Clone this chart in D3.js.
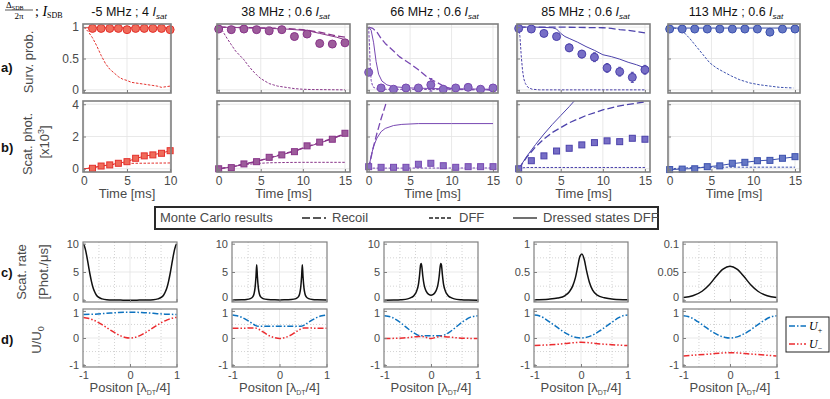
<!DOCTYPE html>
<html lang="en">
<head>
  <meta charset="utf-8">
  <title>Dressed states DFF</title>
  <script src="https://d3js.org/d3.v7.min.js"></script>
  <style>
    body { margin: 0; background: #fff; }
    text { font-family: "Liberation Sans", Arial, sans-serif; }
  </style>
</head>
<body>
<script>
// ---------- data ----------
var colTitles = ['-5 MHz ; 4 ', '38  MHz ; 0.6 ', '66 MHz ; 0.6 ', '85 MHz ; 0.6 ', '113 MHz ; 0.6 '];
var colColors = ['#e4302c', '#883489', '#7848b2', '#4c42ab', '#3b50ad'];
var markFill  = ['#ef6b5a', '#9d5c9b', '#8b6fc3', '#776ec6', '#6577c5'];

var tExp1 = [1, 2, 3, 4, 5, 6, 7, 8, 9, 10];
var tExp = [0, 1.5, 3, 4.5, 6, 7.5, 9, 10.5, 12, 13.5, 15];

// a) survival probability, experiment
var surv1 = [0.98, 0.98, 0.98, 0.98, 0.96, 0.98, 0.98, 0.98, 0.98, 0.96];
var surv2 = [0.97, 0.96, 0.97, 0.96, 0.94, 0.96, 0.85, 0.89, 0.74, 0.73, 0.75];
var surv3 = [0.28, 0.03, 0.01, 0.03, 0.03, 0.08, 0.01, 0.03, 0.04, 0.01, 0.03];
var surv4 = [0.98, 0.97, 0.9, 0.85, 0.67, 0.57, 0.52, 0.35, 0.29, 0.2, 0.32];
var surv5 = [0.97, 0.97, 0.97, 0.97, 0.97, 0.97, 0.97, 0.97, 0.92, 0.97, 0.97];
var survErr1 = [0.01, 0.01, 0.01, 0.01, 0.02, 0.01, 0.01, 0.01, 0.01, 0.02];
var survErr2 = [0.02, 0.02, 0.02, 0.02, 0.03, 0.03, 0.05, 0.04, 0.05, 0.05, 0.04];
var survErr3 = [0.04, 0.03, 0.02, 0.02, 0.02, 0.1, 0.02, 0.03, 0.05, 0.03, 0.03];
var survErr4 = [0.02, 0.02, 0.04, 0.05, 0.06, 0.06, 0.07, 0.07, 0.07, 0.08, 0.07];
var survErr5 = [0.02, 0.02, 0.02, 0.02, 0.02, 0.02, 0.02, 0.02, 0.03, 0.02, 0.02];

// a) Monte Carlo curves [t, P]
var survDressed1 = [[0, 0.99], [10, 0.99]];
var survDff1 = [[0, 1], [0.5, 0.93], [1, 0.83], [1.5, 0.7], [2, 0.55], [2.5, 0.42], [3, 0.33], [3.5, 0.27], [4, 0.21], [4.5, 0.17], [5, 0.15], [5.5, 0.12], [6, 0.11], [7, 0.09], [8, 0.07], [8.5, 0.06], [9, 0.04], [9.5, 0.05], [10, 0.06]];
var survDressed2 = [[0, 1], [3, 0.99], [6, 0.98], [8, 0.97], [9, 0.96], [10, 0.95], [11, 0.93], [12, 0.9], [13, 0.87], [14, 0.84], [15, 0.8]];
var survRecoil2 = [[0, 1], [4, 0.99], [8, 0.98], [10, 0.96], [11, 0.94], [12, 0.92], [13, 0.89], [14, 0.86], [15, 0.84]];
var survDff2 = [[0, 1], [0.5, 0.93], [1, 0.82], [1.5, 0.72], [2, 0.62], [2.5, 0.55], [3, 0.48], [3.5, 0.39], [4, 0.31], [4.5, 0.24], [5, 0.18], [5.5, 0.14], [6, 0.1], [6.5, 0.08], [7, 0.06], [8, 0.04], [9, 0.02], [10, 0.01], [11, 0.005], [15, 0]];
var survDressed3 = [[0, 1], [0.3, 0.95], [0.6, 0.75], [0.9, 0.45], [1.2, 0.25], [1.6, 0.14], [2.2, 0.08], [3, 0.05], [5, 0.03], [8, 0.02], [15, 0.01]];
var survRecoil3 = [[0, 1], [0.5, 0.98], [1, 0.92], [1.5, 0.82], [2, 0.74], [3, 0.62], [3.7, 0.53], [4.5, 0.46], [5.3, 0.39], [6, 0.32], [6.9, 0.22], [7.5, 0.17], [8.5, 0.1], [9.2, 0.05], [10, 0.02], [11, 0.01], [15, 0]];
var survDff3 = [[0, 1], [0.1, 0.7], [0.2, 0.35], [0.3, 0.15], [0.5, 0.05], [1, 0.01], [15, 0]];
var survDressed4 = [[0, 1], [2, 1], [4, 0.99], [4.5, 0.97], [5, 0.9], [5.5, 0.85], [6, 0.82], [7, 0.76], [8, 0.69], [9, 0.63], [10, 0.56], [11, 0.53], [12, 0.49], [13, 0.44], [14, 0.4], [15, 0.35]];
var survRecoil4 = [[0, 1], [5, 1], [10, 0.99], [11, 0.98], [12, 0.96], [13, 0.95], [14, 0.93], [15, 0.91]];
var survDff4 = [[0, 1], [0.15, 0.85], [0.3, 0.55], [0.45, 0.32], [0.6, 0.18], [0.8, 0.1], [1.1, 0.04], [1.6, 0.01], [2.5, 0], [15, 0]];
var survDressed5 = [[0, 0.985], [15, 0.985]];
var survDff5 = [[0, 1], [0.8, 0.98], [1.6, 0.93], [2.4, 0.82], [3.2, 0.69], [4, 0.56], [4.8, 0.43], [5.6, 0.35], [6.4, 0.29], [7.4, 0.22], [8.4, 0.16], [9.6, 0.11], [10.8, 0.08], [12, 0.06], [13.2, 0.04], [14, 0.035], [14.8, 0.03]];

// b) scattered photons [x10^3], experiment
var scat1 = [0.03, 0.17, 0.24, 0.34, 0.44, 0.65, 0.8, 0.86, 0.96, 1.12];
var scat2 = [0, 0.07, 0.3, 0.44, 0.71, 0.86, 1.06, 1.42, 1.65, 1.83, 2.2];
var scat3 = [0.13, 0.09, 0.09, 0.09, 0.28, 0.34, 0.19, 0.09, 0.13, 0.13, 0.13];
var scat4 = [0, 0.5, 0.8, 1.1, 1.27, 1.48, 1.62, 1.73, 1.68, 1.89, 1.83];
var scat5 = [-0.05, -0.02, 0, 0.13, 0.18, 0.34, 0.4, 0.5, 0.52, 0.65, 0.75];
var scatErr1 = [0.03, 0.03, 0.03, 0.04, 0.04, 0.05, 0.05, 0.05, 0.05, 0.06];
var scatErr2 = [0.03, 0.04, 0.05, 0.06, 0.07, 0.07, 0.08, 0.09, 0.1, 0.1, 0.12];
var scatErr3 = [0.05, 0.05, 0.05, 0.05, 0.08, 0.1, 0.07, 0.05, 0.06, 0.06, 0.06];
var scatErr4 = [0.03, 0.07, 0.08, 0.09, 0.1, 0.1, 0.12, 0.12, 0.12, 0.13, 0.13];
var scatErr5 = [0.03, 0.03, 0.03, 0.04, 0.04, 0.05, 0.05, 0.05, 0.05, 0.06, 0.06];

// b) Monte Carlo curves [t, N]
var scatDressed1 = [[0, 0], [1, 0.05], [2, 0.17], [3, 0.25], [4, 0.34], [5, 0.45], [6, 0.63], [7, 0.78], [8, 0.87], [9, 0.97], [10, 1.12]];
var scatDff1 = [[0, 0], [1, 0.08], [2, 0.16], [3, 0.24], [4, 0.3], [5, 0.33], [6, 0.34], [8, 0.35], [10, 0.36]];
var scatDressed2 = [[0, 0], [1.5, 0.1], [3, 0.28], [4.5, 0.45], [6, 0.66], [7.5, 0.87], [9, 1.08], [10.5, 1.35], [12, 1.6], [13.5, 1.85], [15, 2.15]];
var scatRecoil2 = [[0, 0], [1.5, 0.12], [3, 0.3], [4.5, 0.47], [6, 0.68], [7.5, 0.9], [9, 1.1], [10.5, 1.38], [12, 1.63], [13.5, 1.88], [15, 2.18]];
var scatDff2 = [[0, 0], [1.5, 0.12], [3, 0.25], [4.5, 0.33], [6, 0.37], [8, 0.39], [10, 0.4], [15, 0.4]];
var scatDressed3 = [[0, 0], [0.3, 0.8], [0.6, 1.4], [1, 1.9], [1.5, 2.3], [2, 2.5], [3, 2.68], [4, 2.75], [6, 2.8], [10, 2.8], [15, 2.8]];
var scatRecoil3 = [[0, 0], [0.5, 1.2], [1, 2.2], [1.5, 3.1], [2, 3.9], [2.3, 4.4]];
var scatDff3 = [[0, 0], [0.5, 0.04], [15, 0.05]];
var scatDressed4 = [[0, 0], [1, 0.8], [2, 1.5], [3, 2.15], [4, 2.75], [5, 3.3], [6, 3.85], [6.6, 4.2], [7, 4.4]];
var scatRecoil4 = [[0, 0], [1, 0.75], [2, 1.35], [3, 1.85], [4, 2.25], [6, 2.85], [8, 3.3], [10, 3.65], [12, 3.9], [15, 4.15]];
var scatDff4 = [[0, 0], [0.5, 0.06], [1, 0.08], [15, 0.08]];
var scatDressed5 = [[0, -0.05], [1.5, -0.02], [3, 0.02], [4.5, 0.12], [6, 0.2], [7.5, 0.32], [9, 0.4], [10.5, 0.49], [12, 0.54], [13.5, 0.64], [15, 0.74]];
var scatDff5 = [[0, 0], [2, 0.06], [4, 0.09], [6, 0.1], [15, 0.1]];

// c) scattering rate vs position [x, rate]
var rateC1 = [[-1, 10], [-0.98, 9.6], [-0.95, 8.7], [-0.92, 7.4], [-0.89, 6], [-0.86, 4.6], [-0.83, 3.4], [-0.8, 2.4], [-0.76, 1.5], [-0.72, 0.9], [-0.67, 0.5], [-0.6, 0.25], [-0.5, 0.1], [-0.35, 0.05], [-0.15, 0.03], [0, 0.02], [0.15, 0.03], [0.35, 0.05], [0.5, 0.1], [0.6, 0.25], [0.67, 0.5], [0.72, 0.9], [0.76, 1.5], [0.8, 2.4], [0.83, 3.4], [0.86, 4.6], [0.89, 6], [0.92, 7.4], [0.95, 8.7], [0.98, 9.6], [1, 10]];
var rateC2 = [[-1, 0.05], [-0.8, 0.08], [-0.7, 0.13], [-0.62, 0.3], [-0.57, 0.6], [-0.54, 1.2], [-0.52, 2.2], [-0.5, 4.2], [-0.485, 6.3], [-0.47, 4.2], [-0.45, 2.2], [-0.43, 1.2], [-0.4, 0.6], [-0.35, 0.3], [-0.25, 0.14], [-0.1, 0.08], [0, 0.07], [0.1, 0.08], [0.25, 0.14], [0.35, 0.3], [0.4, 0.6], [0.43, 1.2], [0.45, 2.2], [0.47, 4.2], [0.485, 6.3], [0.5, 4.2], [0.52, 2.2], [0.54, 1.2], [0.57, 0.6], [0.62, 0.3], [0.7, 0.13], [0.8, 0.08], [1, 0.05]];
var rateC3 = [[-1, 0.03], [-0.8, 0.05], [-0.65, 0.1], [-0.5, 0.25], [-0.42, 0.5], [-0.36, 0.9], [-0.31, 1.6], [-0.27, 2.8], [-0.245, 4.5], [-0.225, 6.2], [-0.21, 6.5], [-0.195, 5.8], [-0.175, 4.2], [-0.15, 2.8], [-0.12, 1.9], [-0.08, 1.3], [-0.04, 1.0], [0, 0.9], [0.04, 1.0], [0.08, 1.3], [0.12, 1.9], [0.15, 2.8], [0.175, 4.2], [0.195, 5.8], [0.21, 6.5], [0.225, 6.2], [0.245, 4.5], [0.27, 2.8], [0.31, 1.6], [0.36, 0.9], [0.42, 0.5], [0.5, 0.25], [0.65, 0.1], [0.8, 0.05], [1, 0.03]];
var rateC4 = [[-1, 0.01], [-0.7, 0.02], [-0.5, 0.04], [-0.35, 0.08], [-0.25, 0.15], [-0.18, 0.25], [-0.12, 0.4], [-0.07, 0.6], [-0.03, 0.76], [0.02, 0.82], [0.07, 0.72], [0.12, 0.52], [0.18, 0.32], [0.25, 0.18], [0.35, 0.09], [0.5, 0.045], [0.7, 0.02], [1, 0.01]];
var rateC5 = [[-1, 0.005], [-0.8, 0.008], [-0.6, 0.016], [-0.45, 0.027], [-0.3, 0.042], [-0.15, 0.055], [0, 0.06], [0.15, 0.055], [0.3, 0.042], [0.45, 0.027], [0.6, 0.016], [0.8, 0.008], [1, 0.005]];

// d) dressed potentials U/U0 [x, U]
var uPlus1 = [[-1, 0.87], [-0.75, 0.88], [-0.5, 0.91], [-0.25, 0.94], [0, 0.95], [0.25, 0.94], [0.5, 0.91], [0.75, 0.88], [1, 0.87]];
var uMinus1 = [[-1, 0.76], [-0.9, 0.73], [-0.8, 0.67], [-0.7, 0.59], [-0.6, 0.49], [-0.5, 0.38], [-0.4, 0.27], [-0.3, 0.17], [-0.2, 0.08], [-0.1, 0.02], [0, 0], [0.1, 0.02], [0.2, 0.08], [0.3, 0.17], [0.4, 0.27], [0.5, 0.38], [0.6, 0.49], [0.7, 0.59], [0.8, 0.67], [0.9, 0.73], [1, 0.76]];
var uPlus2 = [[-1, 0.85], [-0.9, 0.82], [-0.8, 0.76], [-0.7, 0.67], [-0.6, 0.56], [-0.52, 0.47], [-0.45, 0.43], [-0.3, 0.43], [0, 0.43], [0.3, 0.43], [0.45, 0.43], [0.52, 0.47], [0.6, 0.56], [0.7, 0.67], [0.8, 0.76], [0.9, 0.82], [1, 0.85]];
var uMinus2 = [[-1, 0.36], [-0.8, 0.36], [-0.6, 0.37], [-0.52, 0.37], [-0.45, 0.33], [-0.4, 0.28], [-0.3, 0.17], [-0.2, 0.07], [-0.1, 0.01], [0, -0.02], [0.1, 0.01], [0.2, 0.07], [0.3, 0.17], [0.4, 0.28], [0.45, 0.33], [0.52, 0.37], [0.6, 0.37], [0.8, 0.36], [1, 0.36]];
var uPlus3 = [[-1, 0.82], [-0.85, 0.77], [-0.7, 0.62], [-0.55, 0.42], [-0.4, 0.22], [-0.3, 0.12], [-0.22, 0.08], [0, 0.08], [0.22, 0.08], [0.3, 0.12], [0.4, 0.22], [0.55, 0.42], [0.7, 0.62], [0.85, 0.77], [1, 0.82]];
var uMinus3 = [[-1, -0.02], [-0.6, 0], [-0.3, 0.05], [-0.2, 0.06], [-0.1, 0.02], [0, -0.02], [0.1, 0.02], [0.2, 0.06], [0.3, 0.05], [0.6, 0], [1, -0.02]];
var uPlus4 = [[-1, 0.85], [-0.9, 0.82], [-0.8, 0.74], [-0.7, 0.62], [-0.6, 0.5], [-0.5, 0.38], [-0.4, 0.26], [-0.3, 0.15], [-0.2, 0.07], [-0.1, 0.02], [0, 0], [0.1, 0.02], [0.2, 0.07], [0.3, 0.15], [0.4, 0.26], [0.5, 0.38], [0.6, 0.5], [0.7, 0.62], [0.8, 0.74], [0.9, 0.82], [1, 0.85]];
var uMinus4 = [[-1, -0.28], [-0.5, -0.23], [0, -0.16], [0.5, -0.23], [1, -0.28]];
var uPlus5 = [[-1, 0.82], [-0.9, 0.79], [-0.8, 0.72], [-0.7, 0.61], [-0.6, 0.49], [-0.5, 0.37], [-0.4, 0.25], [-0.3, 0.15], [-0.2, 0.07], [-0.1, 0.02], [0, 0], [0.1, 0.02], [0.2, 0.07], [0.3, 0.15], [0.4, 0.25], [0.5, 0.37], [0.6, 0.49], [0.7, 0.61], [0.8, 0.72], [0.9, 0.79], [1, 0.82]];
var uMinus5 = [[-1, -0.66], [-0.5, -0.6], [0, -0.54], [0.5, -0.6], [1, -0.66]];

// tick values
var timeTicks1 = [0, 5, 10];
var timeTicks = [0, 5, 10, 15];
var survTicks = [0, 0.5, 1];
var scatTicks = [0, 2, 4];
var rateTicks = [[0, 5, 10], [0, 5, 10], [0, 5, 10], [0, 0.5, 1], [0, 0.05, 0.1]];
var rateMinor = [[2.5, 7.5], [2.5, 7.5], [2.5, 7.5], [0.25, 0.75], [0.025, 0.075]];
var posTicks = [-1, 0, 1];
var posMinor = [-0.667, -0.333, 0.333, 0.667];
var uTicks = [-1, 0, 1];
var uMinor = [-0.5, 0.5];

// ---------- layout ----------
var W = 830, H = 399;
var colAB = [[83, 171], [217, 350], [367, 498], [517, 650], [668, 800]];
var colCD = [[83, 177], [232, 327], [384, 478], [534, 628], [683, 777]];
var rowA = [24, 93], rowB = [101, 172], rowC = [242, 302], rowD = [309, 367];

var svg = d3.select('body').append('svg').attr('width', W).attr('height', H);
svg.append('rect').attr('width', W).attr('height', H).attr('fill', '#fff');
var defs = svg.append('defs');
var clipN = 0;

function makePanel(xr, yr, xd, yd) {
  var x = d3.scaleLinear().domain(xd).range(xr);
  var y = d3.scaleLinear().domain(yd).range([yr[1], yr[0]]);
  var id = 'clip' + (clipN++);
  defs.append('clipPath').attr('id', id).append('rect')
    .attr('x', xr[0]).attr('y', yr[0]).attr('width', xr[1] - xr[0]).attr('height', yr[1] - yr[0]);
  var g = svg.append('g');
  var grid = g.append('g');
  var plot = g.append('g').attr('clip-path', 'url(#' + id + ')');
  var marks = g.append('g');
  return { x: x, y: y, g: g, grid: grid, plot: plot, marks: marks, xr: xr, yr: yr };
}

function gridLines(p, xs, ys, dotted) {
  var col = dotted ? '#c8c8c8' : '#e3e3e3';
  p.grid.selectAll(null).data(xs).enter().append('line')
    .attr('x1', d => p.x(d)).attr('x2', d => p.x(d)).attr('y1', p.yr[0]).attr('y2', p.yr[1])
    .attr('stroke', col).attr('stroke-width', 0.8).attr('stroke-dasharray', dotted ? '1,2' : null);
  p.grid.selectAll(null).data(ys).enter().append('line')
    .attr('y1', d => p.y(d)).attr('y2', d => p.y(d)).attr('x1', p.xr[0]).attr('x2', p.xr[1])
    .attr('stroke', col).attr('stroke-width', 0.8).attr('stroke-dasharray', dotted ? '1,2' : null);
}

function axes(p, xt, yt, showX, showY, boxCol, boxW, fs) {
  var fmt = d => String(d);
  var ax = p.g.append('g').attr('transform', 'translate(0,' + p.yr[1] + ')')
    .call(d3.axisBottom(p.x).tickValues(xt).tickSize(-3).tickPadding(4).tickFormat(showX ? fmt : ''));
  var ay = p.g.append('g').attr('transform', 'translate(' + p.xr[0] + ',0)')
    .call(d3.axisLeft(p.y).tickValues(yt).tickSize(-3).tickPadding(4).tickFormat(showY ? fmt : ''));
  [ax, ay].forEach(function (a) {
    a.select('.domain').remove();
    a.selectAll('line').attr('stroke', boxCol);
    a.selectAll('text').attr('fill', '#4a4a4a').style('font-size', fs + 'px')
      .style('font-family', '"Liberation Sans", Arial, sans-serif');
  });
  p.g.append('rect').attr('x', p.xr[0]).attr('y', p.yr[0])
    .attr('width', p.xr[1] - p.xr[0]).attr('height', p.yr[1] - p.yr[0])
    .attr('fill', 'none').attr('stroke', boxCol).attr('stroke-width', boxW);
  return ay;
}

function curve(p, data, color, dash, width, smooth) {
  var line = d3.line().x(d => p.x(d[0])).y(d => p.y(d[1]));
  if (smooth) line.curve(d3.curveMonotoneX);
  p.plot.append('path').datum(data).attr('d', line)
    .attr('fill', 'none').attr('stroke', color).attr('stroke-width', width)
    .attr('stroke-dasharray', dash).attr('stroke-linejoin', 'round');
}

function points(p, ts, vals, errs, color, fill, shape) {
  var data = ts.map((t, i) => ({ t: t, v: vals[i], e: errs[i] }));
  var gg = p.marks.selectAll(null).data(data).enter().append('g');
  gg.append('line').attr('x1', d => p.x(d.t)).attr('x2', d => p.x(d.t))
    .attr('y1', d => p.y(d.v - d.e)).attr('y2', d => p.y(d.v + d.e))
    .attr('stroke', color).attr('stroke-width', 1);
  [-1, 1].forEach(function (s) {
    gg.append('line').attr('x1', d => p.x(d.t) - 1.5).attr('x2', d => p.x(d.t) + 1.5)
      .attr('y1', d => p.y(d.v + s * d.e)).attr('y2', d => p.y(d.v + s * d.e))
      .attr('stroke', color).attr('stroke-width', 1);
  });
  if (shape === 'circle') {
    gg.append('circle').attr('cx', d => p.x(d.t)).attr('cy', d => p.y(d.v)).attr('r', 4)
      .attr('fill', fill).attr('stroke', color).attr('stroke-width', 1);
  } else {
    gg.append('rect').attr('x', d => p.x(d.t) - 3).attr('y', d => p.y(d.v) - 3)
      .attr('width', 6).attr('height', 6)
      .attr('fill', fill).attr('stroke', color).attr('stroke-width', 1);
  }
}

var DASH_DFF = '2.5,1.5', DASH_REC = '7,3';

// ---------- rows a and b ----------
var survSets = [
  { t: tExp1, v: surv1, e: survErr1, dressed: survDressed1, recoil: null, dff: survDff1 },
  { t: tExp, v: surv2, e: survErr2, dressed: survDressed2, recoil: survRecoil2, dff: survDff2 },
  { t: tExp, v: surv3, e: survErr3, dressed: survDressed3, recoil: survRecoil3, dff: survDff3 },
  { t: tExp, v: surv4, e: survErr4, dressed: survDressed4, recoil: survRecoil4, dff: survDff4 },
  { t: tExp, v: surv5, e: survErr5, dressed: survDressed5, recoil: null, dff: survDff5 }
];
var scatSets = [
  { t: tExp1, v: scat1, e: scatErr1, dressed: scatDressed1, recoil: null, dff: scatDff1 },
  { t: tExp, v: scat2, e: scatErr2, dressed: scatDressed2, recoil: scatRecoil2, dff: scatDff2 },
  { t: tExp, v: scat3, e: scatErr3, dressed: scatDressed3, recoil: scatRecoil3, dff: scatDff3 },
  { t: tExp, v: scat4, e: scatErr4, dressed: scatDressed4, recoil: scatRecoil4, dff: scatDff4 },
  { t: tExp, v: scat5, e: scatErr5, dressed: scatDressed5, recoil: null, dff: scatDff5 }
];

colAB.forEach(function (xr, i) {
  var xd = i === 0 ? [-0.1, 10.1] : [-0.2, 15.6];
  var xt = i === 0 ? timeTicks1 : timeTicks;
  var c = colColors[i], f = markFill[i];

  var pa = makePanel(xr, rowA, xd, [-0.05, 1.05]);
  gridLines(pa, xt, survTicks, false);
  var s = survSets[i];
  curve(pa, s.dff, c, DASH_DFF, 1, false);
  if (s.recoil) curve(pa, s.recoil, c, DASH_REC, 1.3, false);
  curve(pa, s.dressed, c, null, 1, false);
  axes(pa, xt, survTicks, false, i === 0, '#7f7f7f', 1.6, 12);
  points(pa, s.t, s.v, s.e, c, f, 'circle');

  var pb = makePanel(xr, rowB, xd, [-0.2, 4.2]);
  gridLines(pb, xt, scatTicks, false);
  var b = scatSets[i];
  curve(pb, b.dff, c, DASH_DFF, 1, false);
  if (b.recoil) curve(pb, b.recoil, c, DASH_REC, 1.3, false);
  curve(pb, b.dressed, c, null, 1, false);
  axes(pb, xt, scatTicks, true, i === 0, '#7f7f7f', 1.6, 12);
  points(pb, b.t, b.v, b.e, c, f, 'square');

  svg.append('text').attr('x', (xr[0] + xr[1]) / 2).attr('y', 198).attr('text-anchor', 'middle')
    .style('font-size', '13px').attr('fill', '#4a4a4a').text('Time [ms]');

  var tt = svg.append('text').attr('x', (xr[0] + xr[1]) / 2 + 2).attr('y', 16).attr('text-anchor', 'middle')
    .style('font-size', '12.5px').attr('fill', '#111');
  tt.append('tspan').text(colTitles[i]);
  tt.append('tspan').style('font-style', 'italic').text('I');
  tt.append('tspan').style('font-style', 'italic').style('font-size', '8px').attr('dy', 3).text('sat');
});

// ---------- rows c and d ----------
var rateSets = [rateC1, rateC2, rateC3, rateC4, rateC5];
var uPlusSets = [uPlus1, uPlus2, uPlus3, uPlus4, uPlus5];
var uMinusSets = [uMinus1, uMinus2, uMinus3, uMinus4, uMinus5];
var U_PLUS = '#0d72bf', U_MINUS = '#ec2b2f';
var DASH_UP = '6,2,1.5,2', DASH_UM = '6,2,1.5,2,1.5,2';

colCD.forEach(function (xr, i) {
  var rt = rateTicks[i];
  var top = rt[2];
  var pc = makePanel(xr, rowC, [-1.01, 1.01], [-0.03 * top, 1.03 * top]);
  gridLines(pc, posMinor, rateMinor[i], true);
  gridLines(pc, [0], [rt[1]], false);
  curve(pc, rateSets[i], '#111', null, 1.5, true);
  var ayc = axes(pc, posTicks, rt, false, true, '#808080', 1.2, 11);
  ayc.selectAll('text').filter(d => d === 0).attr('dy', '0.05em');

  var pd = makePanel(xr, rowD, [-1.01, 1.01], [-1.07, 1.07]);
  gridLines(pd, posMinor, uMinor, true);
  gridLines(pd, [0], [0], false);
  curve(pd, uPlusSets[i], U_PLUS, DASH_UP, 1.5, true);
  curve(pd, uMinusSets[i], U_MINUS, DASH_UM, 1.5, true);
  var ayd = axes(pd, posTicks, uTicks, true, true, '#808080', 1.2, 11);
  ayd.selectAll('text').filter(d => d === 1).attr('dy', '0.55em');

  var pt = svg.append('text').attr('x', (xr[0] + xr[1]) / 2).attr('y', 392).attr('text-anchor', 'middle')
    .style('font-size', '13px').attr('fill', '#4a4a4a');
  pt.append('tspan').text('Positon [λ');
  pt.append('tspan').style('font-size', '7px').attr('dy', 3).text('DT');
  pt.append('tspan').attr('dy', -3).text('/4]');
});

// ---------- labels ----------
function rotLabel(x, y) {
  return svg.append('text').attr('transform', 'translate(' + x + ',' + y + ') rotate(-90)')
    .attr('text-anchor', 'middle').style('font-size', '13px').attr('fill', '#4a4a4a');
}
rotLabel(33, 62).text('Surv. prob.');
rotLabel(32, 144).text('Scat. phot.');
var x3 = rotLabel(49, 142);
x3.append('tspan').text('[x10');
x3.append('tspan').style('font-size', '9px').attr('dy', -5).text('3');
x3.append('tspan').attr('dy', 5).text(']');
rotLabel(26, 272).text('Scat. rate');
rotLabel(48, 272).text('[Phot./μs]');
var uu = rotLabel(41, 340);
uu.append('tspan').text('U/U');
uu.append('tspan').style('font-size', '9px').attr('dy', 3).text('0');

[['a)', 72], ['b)', 152], ['c)', 277], ['d)', 344]].forEach(function (d) {
  svg.append('text').attr('x', 1).attr('y', d[1]).style('font-size', '13px')
    .style('font-weight', 'bold').attr('fill', '#111').text(d[0]);
});

// header formula  Δ_SDB / 2π ; I_SDB
var serif = '"Liberation Serif", "DejaVu Serif", serif';
var num = svg.append('text').attr('x', 6).attr('y', 8).style('font-family', serif).style('font-size', '9px');
num.append('tspan').text('Δ');
num.append('tspan').style('font-size', '6px').attr('dy', 1.5).text('SDB');
svg.append('line').attr('x1', 5).attr('x2', 33).attr('y1', 10).attr('y2', 10).attr('stroke', '#111').attr('stroke-width', 0.7);
svg.append('text').attr('x', 19).attr('y', 19).attr('text-anchor', 'middle').style('font-family', serif)
  .style('font-size', '9px').text('2π');
var isdb = svg.append('text').attr('x', 35).attr('y', 16).style('font-family', serif).style('font-size', '14px');
isdb.append('tspan').text('; ');
isdb.append('tspan').style('font-style', 'italic').text('I');
isdb.append('tspan').style('font-size', '8px').attr('dy', 2).text('SDB');

// ---------- Monte Carlo legend ----------
var lg = svg.append('g');
lg.append('rect').attr('x', 155).attr('y', 207).attr('width', 503).attr('height', 22)
  .attr('fill', '#fff').attr('stroke', '#2a2a2a').attr('stroke-width', 2);
lg.append('text').attr('x', 160).attr('y', 222).style('font-size', '13px').attr('fill', '#4a4a4a').text('Monte Carlo results');
var legItems = [
  { label: 'Recoil', dash: '8,3', x: 302 },
  { label: 'DFF', dash: '4,2', x: 429 },
  { label: 'Dressed states DFF', dash: null, x: 513 }
];
legItems.forEach(function (d) {
  lg.append('line').attr('x1', d.x).attr('x2', d.x + 24).attr('y1', 218).attr('y2', 218)
    .attr('stroke', '#222').attr('stroke-width', 1.3).attr('stroke-dasharray', d.dash);
  lg.append('text').attr('x', d.x + 30).attr('y', 222).style('font-size', '13px').attr('fill', '#4a4a4a').text(d.label);
});

// ---------- U legend ----------
var ul = svg.append('g');
ul.append('rect').attr('x', 786).attr('y', 317).attr('width', 43).attr('height', 35)
  .attr('fill', '#fff').attr('stroke', '#222').attr('stroke-width', 1);
[{ c: U_PLUS, dash: DASH_UP, sub: '+', y: 326 }, { c: U_MINUS, dash: DASH_UM, sub: '−', y: 344 }].forEach(function (d) {
  ul.append('line').attr('x1', 789).attr('x2', 806).attr('y1', d.y).attr('y2', d.y)
    .attr('stroke', d.c).attr('stroke-width', 1.5).attr('stroke-dasharray', d.dash);
  var t = ul.append('text').attr('x', 809).attr('y', d.y + 4).style('font-family', serif).style('font-size', '12px');
  t.append('tspan').style('font-style', 'italic').text('U');
  t.append('tspan').style('font-size', '8px').attr('dy', 3).text(d.sub);
});
</script>
</body>
</html>
